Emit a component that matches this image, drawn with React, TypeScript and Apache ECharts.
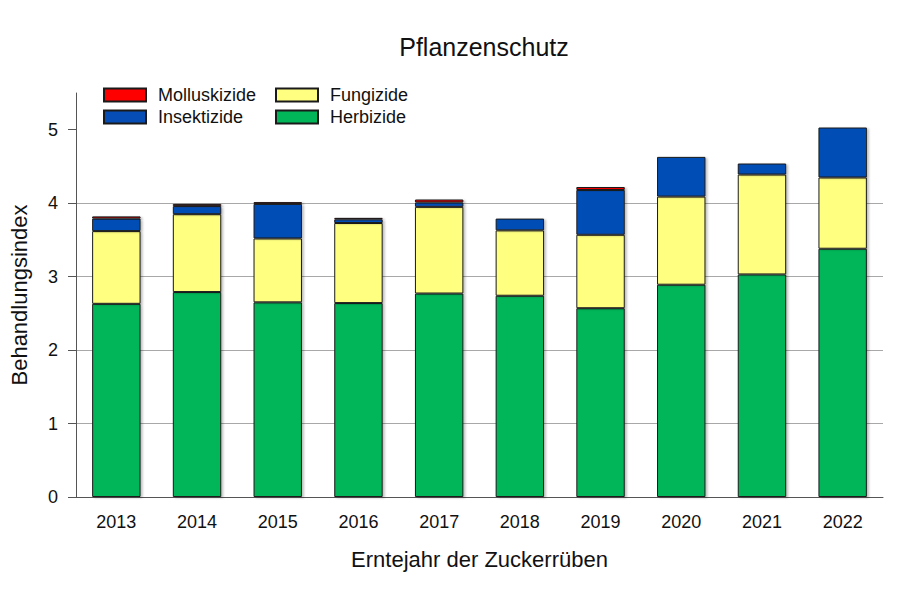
import React, { useEffect, useRef } from "react";
import * as echarts from "echarts";

const years = ["2013", "2014", "2015", "2016", "2017", "2018", "2019", "2020", "2021", "2022"];
const herbizide = [2.63, 2.79, 2.65, 2.64, 2.77, 2.74, 2.57, 2.89, 3.03, 3.38];
const fungizide = [0.99, 1.06, 0.87, 1.09, 1.18, 0.89, 1.0, 1.2, 1.36, 0.97];
const insektizide = [0.17, 0.11, 0.47, 0.05, 0.06, 0.16, 0.61, 0.54, 0.15, 0.68];
const molluskizide = [0.03, 0.03, 0.025, 0.02, 0.04, 0.01, 0.04, 0.01, 0.01, 0.01];
const yTicks = [0, 1, 2, 3, 4, 5];

const FONT = "Liberation Sans, Arial, sans-serif";

export default function App() {
  const ref = useRef<HTMLDivElement>(null);
  useEffect(() => {
    document.body.style.margin = "0";
    const chart = echarts.init(ref.current!, null, { renderer: "svg" });
    const barStyle = (color: string) => ({
      color,
      borderColor: "#1a1a1a",
      borderWidth: 1,
      shadowColor: "rgba(0,0,0,0.25)",
      shadowBlur: 2,
      shadowOffsetX: 2,
      shadowOffsetY: 1,
    });
    const mkSeries = (name: string, data: number[], color: string) => ({
      name,
      type: "bar",
      stack: "total",
      data,
      barWidth: "60%",
      itemStyle: barStyle(color),
      emphasis: { disabled: true },
    });
    const legendBase = (name: string, left: number, top: number) => ({
      data: [name],
      left,
      top,
      padding: 0,
      itemWidth: 42,
      itemHeight: 13,
      icon: "rect",
      selectedMode: false,
      textStyle: { fontFamily: FONT, fontSize: 18, color: "#111", padding: [0, 0, 0, 7] },
    });
    chart.setOption({
      animation: false,
      title: {
        text: "Pflanzenschutz",
        left: 479,
        top: 29,
        textAlign: "center",
        textStyle: { fontFamily: FONT, fontSize: 25, fontWeight: "normal", color: "#111" },
      },
      legend: [
        legendBase("Molluskizide", 103, 86),
        legendBase("Fungizide", 275, 86),
        legendBase("Insektizide", 103, 108),
        legendBase("Herbizide", 275, 108),
      ],
      grid: { left: 75, right: 17, top: 93, bottom: 103 },
      xAxis: {
        type: "category",
        data: years,
        name: "Erntejahr der Zuckerrüben",
        nameLocation: "middle",
        nameGap: 51,
        nameTextStyle: { fontFamily: FONT, fontSize: 22, color: "#111" },
        axisLine: { lineStyle: { color: "#555", width: 1 } },
        axisTick: { alignWithLabel: true, length: 8, lineStyle: { color: "#555" } },
        axisLabel: { fontFamily: FONT, fontSize: 18, color: "#111", margin: 16 },
      },
      yAxis: {
        type: "value",
        min: 0,
        max: 5.5,
        interval: 1,
        name: "Behandlungsindex",
        nameLocation: "middle",
        nameGap: 46,
        nameTextStyle: { fontFamily: FONT, fontSize: 22, color: "#111" },
        axisLine: { show: true, lineStyle: { color: "#555", width: 1 } },
        axisTick: { show: true, length: 8, lineStyle: { color: "#555" }, customValues: yTicks },
        axisLabel: { fontFamily: FONT, fontSize: 18, color: "#111", margin: 18, customValues: yTicks },
        splitLine: { show: true, showMaxLine: false, lineStyle: { color: "#a8a8a8", width: 1 } },
      },
      series: [
        mkSeries("Herbizide", herbizide, "#00b658"),
        mkSeries("Fungizide", fungizide, "#ffff80"),
        mkSeries("Insektizide", insektizide, "#064eb6"),
        mkSeries("Molluskizide", molluskizide, "#ff0000"),
      ],
    });
    return () => chart.dispose();
  }, []);
  return <div ref={ref} style={{ width: 900, height: 600 }} />;
}
